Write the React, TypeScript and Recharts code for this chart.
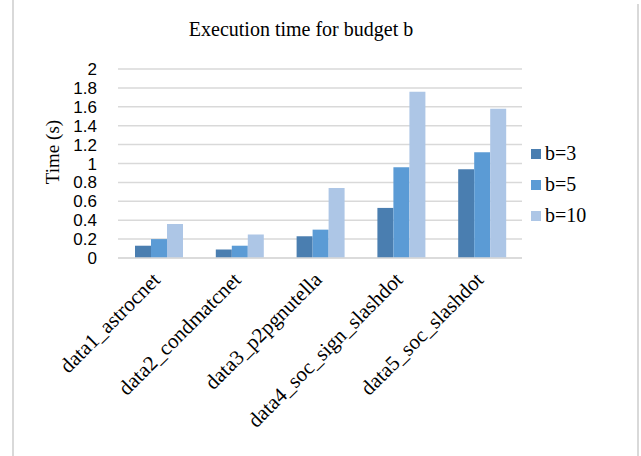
import React from 'react';
import { BarChart, Bar, XAxis, YAxis, CartesianGrid, Label } from 'recharts';

const categories = [
  'data1_astrocnet',
  'data2_condmatcnet',
  'data3_p2pgnutella',
  'data4_soc_sign_slashdot',
  'data5_soc_slashdot',
];
const b3Values = [0.13, 0.09, 0.23, 0.53, 0.94];
const b5Values = [0.2, 0.13, 0.3, 0.96, 1.12];
const b10Values = [0.36, 0.25, 0.74, 1.76, 1.58];
const seriesKeys = ['b3', 'b5', 'b10'];
const seriesNames = ['b=3', 'b=5', 'b=10'];
const seriesColors = ['#4a7eb0', '#5b9bd5', '#adc6e6'];
const yTicks = [0, 0.2, 0.4, 0.6, 0.8, 1, 1.2, 1.4, 1.6, 1.8, 2];
const titleText = 'Execution time for budget b';
const yAxisLabel = 'Time (s)';

const data = categories.map((c, i) => ({
  name: c,
  b3: b3Values[i],
  b5: b5Values[i],
  b10: b10Values[i],
}));

const SERIF = '"Liberation Serif", "Times New Roman", serif';
const SANS = '"Liberation Sans", Arial, sans-serif';

const XTick = (props: any) => {
  const { x, y, payload } = props;
  return (
    <g transform={`translate(${x + 3},${y + 15})`}>
      <text
        x={0}
        y={0}
        textAnchor="end"
        transform="rotate(-45)"
        fontFamily={SERIF}
        fontSize={21}
        fill="#000"
      >
        {payload.value}
      </text>
    </g>
  );
};

const YLabel = (props: any) => {
  const { viewBox } = props;
  const cx = viewBox.x + 14;
  const cy = 152;
  return (
    <text
      x={cx}
      y={cy}
      textAnchor="middle"
      dominantBaseline="central"
      transform={`rotate(-90, ${cx}, ${cy})`}
      fontFamily={SERIF}
      fontSize={19}
      fill="#000"
    >
      {yAxisLabel}
    </text>
  );
};

export default function App() {
  return (
    <div
      style={{
        position: 'absolute',
        left: 0,
        top: 0,
        width: 641,
        height: 456,
        background: '#fff',
        overflow: 'hidden',
      }}
    >
      <div style={{ position: 'absolute', left: 12, top: 0, width: 2, height: 456, background: '#d9d9d9' }} />
      <div style={{ position: 'absolute', left: 637, top: 4, width: 2, height: 452, background: '#d9d9d9' }} />
      <div
        style={{
          position: 'absolute',
          left: 0,
          top: 17,
          width: 602,
          textAlign: 'center',
          fontFamily: SERIF,
          fontSize: 20,
          lineHeight: '24px',
          color: '#000',
        }}
      >
        {titleText}
      </div>
      <BarChart
        width={641}
        height={456}
        data={data}
        margin={{ top: 69, right: 119, bottom: 0, left: 38 }}
        barCategoryGap={17}
        barGap={0}
      >
        <CartesianGrid vertical={false} stroke="#d9d9d9" strokeWidth={1.5} />
        <XAxis
          dataKey="name"
          height={198}
          interval={0}
          tickLine={false}
          axisLine={{ stroke: '#d9d9d9', strokeWidth: 1.5 }}
          tick={<XTick />}
        />
        <YAxis
          width={80}
          domain={[0, 2]}
          ticks={yTicks}
          interval={0}
          axisLine={false}
          tickLine={false}
          tickMargin={15}
          tick={{ fill: '#000', fontFamily: SANS, fontSize: 17 }}
        >
          <Label content={<YLabel />} />
        </YAxis>
        {seriesKeys.map((k, i) => (
          <Bar
            key={k}
            dataKey={k}
            name={seriesNames[i]}
            fill={seriesColors[i]}
            isAnimationActive={false}
          />
        ))}
      </BarChart>
      <div style={{ position: 'absolute', left: 531, top: 138 }}>
        {seriesNames.map((n, i) => (
          <div
            key={n}
            style={{
              display: 'flex',
              alignItems: 'center',
              height: 31,
              fontFamily: SERIF,
              fontSize: 20,
              color: '#000',
            }}
          >
            <span
              style={{
                display: 'inline-block',
                width: 10,
                height: 10,
                background: seriesColors[i],
                marginRight: 4,
              }}
            />
            <span>{n}</span>
          </div>
        ))}
      </div>
    </div>
  );
}
